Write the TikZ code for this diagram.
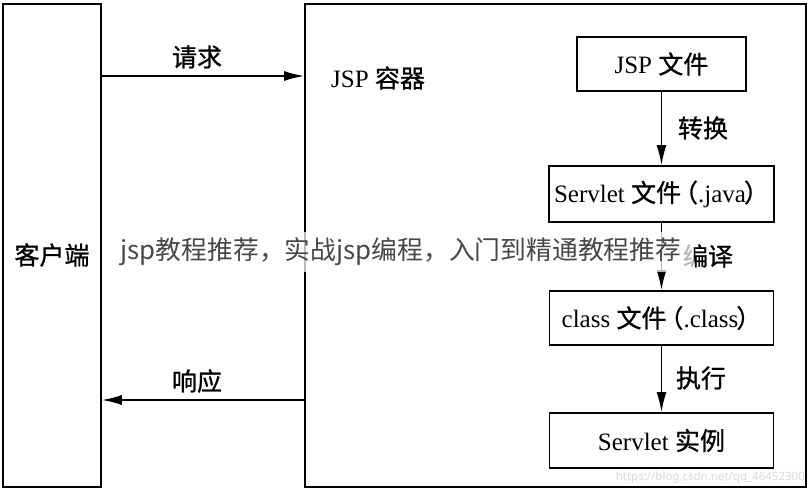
\documentclass[tikz,border=0pt]{standalone}
\usepackage{fontspec}
\setmainfont{Liberation Serif}
\newfontfamily\cjk[FakeBold=0.9]{Noto Sans CJK SC}
\newfontfamily\adfont{Noto Sans CJK SC}
\newfontfamily\wmfont{Noto Sans}
\usetikzlibrary{arrows.meta}
\newcommand\lpar{\kern-0.32em{\cjk （}}
\newcommand\rpar{\kern-0.08em{\cjk ）}}
\begin{document}
\begin{tikzpicture}[x=1pt,y=-1pt,
  box/.style={draw, line width=1.7pt, inner sep=0pt},
  lbl/.style={inner sep=0pt, font=\fontsize{25}{29}\selectfont},
  conn/.style={line width=1.7pt, -{Latex[length=20pt,width=10pt]}},
]
\useasboundingbox[fill=white] (0,0) rectangle (809,490);
% outer boxes
\node[box, minimum width=98pt, minimum height=483pt] (client) at (52,245.5) {};
\node[box, minimum width=501pt, minimum height=483pt] (container) at (555.5,245.5) {};
\node[lbl] (clientlbl) at (52,255) {\cjk 客户端};
\node[lbl, anchor=west] (contlbl) at (331,78) {JSP {\cjk 容器}};
% request / response
\coordinate (reqy) at (0,76);
\coordinate (resy) at (0,400);
\draw[conn] (client.east |- reqy) -- (container.west |- reqy);
\draw[conn] (container.west |- resy) -- (client.east |- resy);
\node[lbl] (reqlbl) at (197,57) {\cjk 请求};
\node[lbl] (reslbl) at (197,381) {\cjk 响应};
% inner chain
\node[box, minimum width=169pt, minimum height=54pt, lbl] (jsp) at (661.5,64) {JSP {\cjk 文件}};
\node[box, minimum width=225pt, minimum height=56pt, lbl] (java) at (661.5,194) {Servlet {\cjk 文件}\lpar.java\rpar};
\node[box, minimum width=224pt, minimum height=54pt, lbl] (class) at (661.5,318) {class {\cjk 文件}\lpar.class\rpar};
\node[box, minimum width=224pt, minimum height=55pt, lbl] (inst) at (661.5,440.5) {Servlet {\cjk 实例}};
\draw[conn] (jsp) -- (java);
\draw[conn] (java) -- (class);
\draw[conn] (class) -- (inst);
\node[lbl] (t1) at (703,128) {\cjk 转换};
\node[lbl] (t2) at (708,256) {\cjk 编译};
\node[lbl] (t3) at (701,378) {\cjk 执行};
% overlay banner
\node[fill=white, fill opacity=0.72, text opacity=1, text=black!72, inner sep=0pt,
      minimum width=585pt, minimum height=40pt,
      font=\adfont\fontsize{25.8}{30}\selectfont] (ad) at (401,252)
  {jsp教程推荐，实战jsp编程，入门到精通教程推荐};
% watermark
\node[inner sep=0pt, anchor=east, text=black!15, font=\wmfont\fontsize{11.5}{13}\selectfont] (wm) at (805,478)
  {https://blog.csdn.net/qq\_46452300};
\end{tikzpicture}
\end{document}
